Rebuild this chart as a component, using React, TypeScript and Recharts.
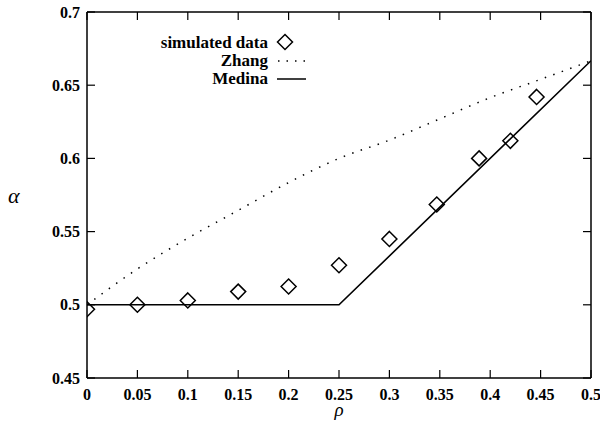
import React from 'react';
import { ComposedChart, Line, Scatter, XAxis, YAxis, Legend } from 'recharts';

const rhoTicks = [0, 0.05, 0.1, 0.15, 0.2, 0.25, 0.3, 0.35, 0.4, 0.45, 0.5];
const alphaTicks = [0.45, 0.5, 0.55, 0.6, 0.65, 0.7];

const simRho = [0, 0.05, 0.1, 0.15, 0.2, 0.25, 0.3, 0.347, 0.389, 0.42, 0.446];
const simAlpha = [0.497, 0.5, 0.503, 0.509, 0.5125, 0.527, 0.545, 0.5685, 0.6, 0.612, 0.642];

const zhangRho = [0, 0.05, 0.1, 0.15, 0.2, 0.25, 0.3, 0.35, 0.4, 0.45, 0.5];
const zhangAlpha = [0.5, 0.5245, 0.5455, 0.5645, 0.5835, 0.6, 0.6125, 0.627, 0.6415, 0.654, 0.6667];

const medinaRho = [0, 0.25, 0.5];
const medinaAlpha = [0.5, 0.5, 0.6667];

const simData = simRho.map((x, i) => ({ x, y: simAlpha[i] }));
const zhangData = zhangRho.map((x, i) => ({ x, y: zhangAlpha[i] }));
const medinaData = medinaRho.map((x, i) => ({ x, y: medinaAlpha[i] }));

const FONT = '"Liberation Serif", "DejaVu Serif", serif';
const tickStyle = { fill: '#000', fontFamily: FONT, fontWeight: 'bold' as const, fontSize: 16 };
const axisLineStyle = { stroke: '#000', strokeWidth: 1.5 };
const tickLineStyle = { stroke: '#000', strokeWidth: 1.2 };
const blank = () => '';

const Diamond = (props: any) => {
  const { cx, cy } = props;
  if (cx == null || cy == null) return null;
  const r = 7.5;
  return (
    <path
      d={`M${cx},${cy - r}L${cx + r},${cy}L${cx},${cy + r}L${cx - r},${cy}Z`}
      fill="none"
      stroke="#000"
      strokeWidth={1.5}
    />
  );
};

const LegendContent = () => (
  <svg width={600} height={100} style={{ position: 'absolute', left: 0, top: 0, overflow: 'visible' }}>
    <g fontFamily={FONT} fontWeight="bold" fontSize={17} fill="#000">
      <text x={268} y={48} textAnchor="end">simulated data</text>
      <text x={268} y={66} textAnchor="end">Zhang</text>
      <text x={268} y={84} textAnchor="end">Medina</text>
    </g>
    <path d="M285,34.5L292.5,42L285,49.5L277.5,42Z" fill="none" stroke="#000" strokeWidth={1.5} />
    <line x1={278} y1={61} x2={306} y2={61} stroke="#000" strokeWidth={1.5} strokeDasharray="1.5 7" />
    <line x1={277} y1={79} x2={306} y2={79} stroke="#000" strokeWidth={1.5} />
  </svg>
);

export default function App() {
  return (
    <div style={{ position: 'absolute', left: 0, top: 0, width: 600, height: 421, background: '#fff' }}>
      <ComposedChart width={600} height={421} margin={{ top: 12, right: 9, left: 0, bottom: 0 }}>
        {/* tick-only mirrored axes (inward ticks) */}
        <XAxis
          xAxisId="bt"
          orientation="bottom"
          mirror
          type="number"
          dataKey="x"
          domain={[0, 0.5]}
          ticks={rhoTicks}
          interval={0}
          height={1}
          tickSize={8}
          tickFormatter={blank}
          axisLine={false}
          tickLine={tickLineStyle}
          allowDataOverflow
        />
        <XAxis
          xAxisId="t"
          orientation="top"
          mirror
          type="number"
          dataKey="x"
          domain={[0, 0.5]}
          ticks={rhoTicks}
          interval={0}
          height={1}
          tickSize={8}
          tickFormatter={blank}
          axisLine={axisLineStyle}
          tickLine={tickLineStyle}
          allowDataOverflow
        />
        <YAxis
          yAxisId="lt"
          orientation="left"
          mirror
          type="number"
          domain={[0.45, 0.7]}
          ticks={alphaTicks}
          interval={0}
          width={1}
          tickSize={8}
          tickFormatter={blank}
          axisLine={false}
          tickLine={tickLineStyle}
          allowDataOverflow
        />
        <YAxis
          yAxisId="r"
          orientation="right"
          mirror
          type="number"
          domain={[0.45, 0.7]}
          ticks={alphaTicks}
          interval={0}
          width={1}
          tickSize={8}
          tickFormatter={blank}
          axisLine={axisLineStyle}
          tickLine={tickLineStyle}
          allowDataOverflow
        />
        {/* labelled axes */}
        <XAxis
          xAxisId="b"
          type="number"
          dataKey="x"
          domain={[0, 0.5]}
          ticks={rhoTicks}
          interval={0}
          height={43}
          tickSize={0}
          tickMargin={11}
          tick={tickStyle}
          axisLine={axisLineStyle}
          tickLine={false}
          allowDataOverflow
          label={{ value: 'ρ', position: 'insideBottom', offset: 5, style: { fontFamily: FONT, fontStyle: 'italic', fontSize: 19, fill: '#000' } }}
        />
        <YAxis
          yAxisId="l"
          type="number"
          domain={[0.45, 0.7]}
          ticks={alphaTicks}
          interval={0}
          width={87}
          tickSize={0}
          tickMargin={7}
          tick={tickStyle}
          axisLine={axisLineStyle}
          tickLine={false}
          allowDataOverflow
          label={{ value: 'α', position: 'insideLeft', offset: 8, style: { fontFamily: FONT, fontStyle: 'italic', fontSize: 22, fill: '#000' } }}
        />
        <Line
          xAxisId="b"
          yAxisId="l"
          data={zhangData}
          dataKey="y"
          type="monotone"
          stroke="#000"
          strokeWidth={1.5}
          strokeDasharray="1.5 7.5"
          dot={false}
          activeDot={false}
          isAnimationActive={false}
          name="Zhang"
        />
        <Line
          xAxisId="b"
          yAxisId="l"
          data={medinaData}
          dataKey="y"
          type="linear"
          stroke="#000"
          strokeWidth={1.6}
          dot={false}
          activeDot={false}
          isAnimationActive={false}
          name="Medina"
        />
        <Scatter
          xAxisId="b"
          yAxisId="l"
          data={simData}
          dataKey="y"
          shape={Diamond}
          isAnimationActive={false}
          name="simulated data"
        />
        <Legend
          layout="vertical"
          align="center"
          verticalAlign="middle"
          content={LegendContent}
          wrapperStyle={{ left: 0, top: 0, width: 600, height: 100 }}
        />
      </ComposedChart>
    </div>
  );
}
